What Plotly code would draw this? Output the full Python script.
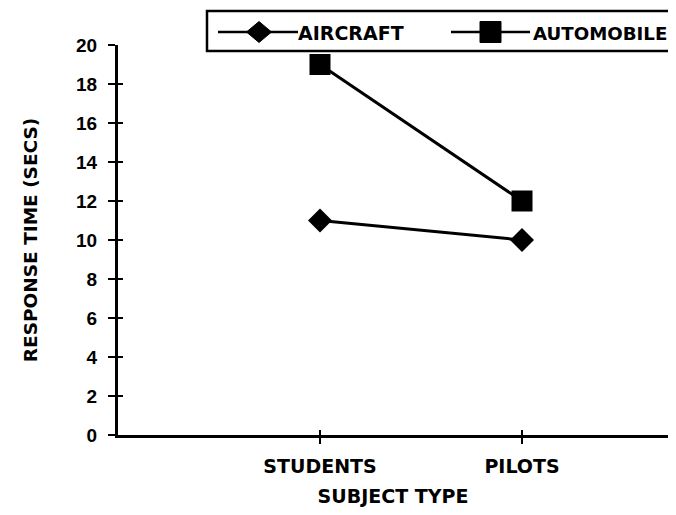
import plotly.graph_objects as go

categories = ["STUDENTS", "PILOTS"]
aircraft = [11, 10]
automobile = [19, 12]
y_ticks = [0, 2, 4, 6, 8, 10, 12, 14, 16, 18, 20]
series_names = ["AIRCRAFT", "AUTOMOBILE"]

TEXT_FONT = "DejaVu Sans, Verdana, sans-serif"
NUM_FONT = "Liberation Sans, Arial, sans-serif"
FS = 19

# the page body adds an 8px margin on every side; size the figure to fit the window exactly
OFF = 8
W, H = 676 - 2 * OFF, 515 - 2 * OFF
ML, MR, MT = 118 - OFF, 0, 45 - OFF
MB = H - (435 - OFF)
PW, PH = W - ML - MR, H - MT - MB


def px(x):
    return (x - OFF - ML) / PW


def py(y):
    return (H - MB - (y - OFF)) / PH


xpos = [i + 1 for i in range(len(categories))]

fig = go.Figure()
fig.add_trace(go.Scatter(x=xpos, y=aircraft, name=series_names[0], mode="lines+markers",
                         line=dict(color="black", width=3),
                         marker=dict(symbol="diamond", size=18.5, color="black"),
                         showlegend=False))
fig.add_trace(go.Scatter(x=xpos, y=automobile, name=series_names[1], mode="lines+markers",
                         line=dict(color="black", width=3),
                         marker=dict(symbol="square", size=21, color="black"),
                         showlegend=False))
fig.add_trace(go.Scatter(x=[None], y=[None], xaxis="x2", yaxis="y2",
                         showlegend=False, hoverinfo="skip"))

# manual legend (box, line samples, symbols, labels), positioned in window pixels
ly = 32
shapes = [
    dict(type="rect", xref="paper", yref="paper", x0=px(207), x1=px(700), y0=py(51), y1=py(11),
         line=dict(color="black", width=2.5), fillcolor="white"),
    dict(type="line", xref="paper", yref="paper", x0=px(218), x1=px(298), y0=py(ly), y1=py(ly),
         line=dict(color="black", width=2.5)),
    dict(type="path", xref="paper", yref="paper",
         path=f"M{px(246.5)},{py(ly)} L{px(259)},{py(ly-10.5)} L{px(271.5)},{py(ly)} L{px(259)},{py(ly+10.5)} Z",
         line=dict(color="black", width=1), fillcolor="black"),
    dict(type="line", xref="paper", yref="paper", x0=px(451), x1=px(530), y0=py(ly), y1=py(ly),
         line=dict(color="black", width=2.5)),
    dict(type="rect", xref="paper", yref="paper", x0=px(480), x1=px(501), y0=py(ly+10.5), y1=py(ly-10.5),
         line=dict(color="black", width=1), fillcolor="black"),
]
for s in shapes:
    s["layer"] = "above"
annotations = [
    dict(text=series_names[0], xref="paper", yref="paper", x=px(296), y=py(ly + 1), xanchor="left",
         yanchor="middle", showarrow=False, font=dict(family=TEXT_FONT, size=FS, color="black", weight="bold")),
    dict(text=series_names[1], xref="paper", yref="paper", x=px(531), y=py(ly + 1), xanchor="left",
         yanchor="middle", showarrow=False, font=dict(family=TEXT_FONT, size=18.2, color="black", weight="bold")),
]

xr = [0, PW / 202]
yr = [0, 20]
fig.update_layout(
    width=W, height=H,
    margin=dict(l=ML, r=MR, t=MT, b=MB, autoexpand=False),
    paper_bgcolor="white", plot_bgcolor="white",
    font=dict(family=TEXT_FONT, size=FS, color="black", weight="bold"),
    showlegend=False,
    shapes=shapes,
    annotations=annotations,
    xaxis=dict(range=xr, tickvals=xpos, ticktext=categories, showgrid=False, zeroline=False,
               showline=True, linecolor="black", linewidth=3, ticks="outside", ticklen=6,
               tickwidth=2, tickcolor="black", ticklabelstandoff=6,
               tickfont=dict(family=TEXT_FONT, size=FS, weight="bold"),
               title=dict(text="SUBJECT TYPE", standoff=14,
                          font=dict(family=TEXT_FONT, size=FS, weight="bold"))),
    yaxis=dict(range=yr, tickvals=y_ticks, showgrid=False, zeroline=False,
               showline=True, linecolor="black", linewidth=3, ticks="outside", ticklen=7,
               tickwidth=2, tickcolor="black", ticklabelstandoff=7,
               tickfont=dict(family=NUM_FONT, size=FS, weight="bold"),
               title=dict(text="RESPONSE TIME (SECS)", standoff=34,
                          font=dict(family=TEXT_FONT, size=18.5, weight="bold"))),
    xaxis2=dict(range=xr, overlaying="x", tickvals=xpos, showticklabels=False, showgrid=False,
                zeroline=False, showline=False, ticks="inside", ticklen=5, tickwidth=2,
                tickcolor="black", side="bottom"),
    yaxis2=dict(range=yr, overlaying="y", tickvals=y_ticks, showticklabels=False, showgrid=False,
                zeroline=False, showline=False, ticks="inside", ticklen=5, tickwidth=2,
                tickcolor="black", side="left"),
)
fig.write_html("out.html")
